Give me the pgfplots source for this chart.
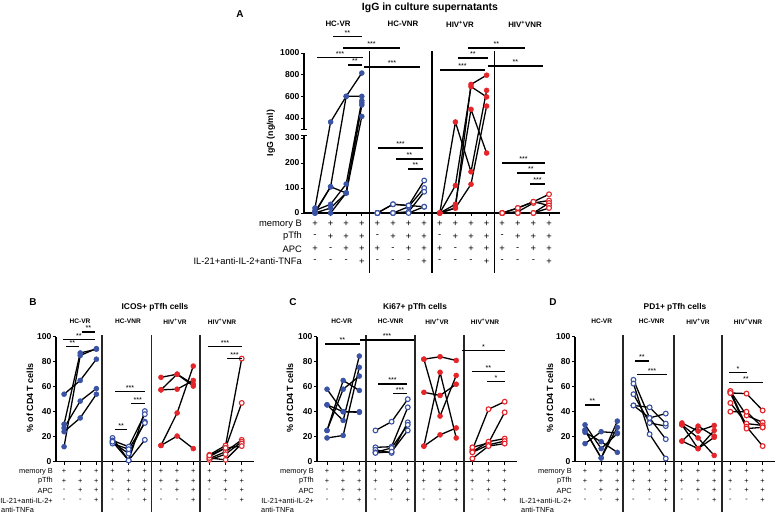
\documentclass[border=0pt]{standalone}
\usepackage{pgfplots}
\pgfplotsset{compat=1.18}
\usepackage{fontspec}
\setmainfont{Liberation Sans}
\definecolor{cblue}{RGB}{59,83,164}
\definecolor{cred}{RGB}{228,38,42}
\pgfplotsset{
  dline/.style={black, line width=1.3bp},
  bf/.style={dline, mark=*, mark size=2.5bp, mark options={solid, draw=cblue, fill=cblue, line width=0.5bp}},
  bo/.style={dline, mark=*, mark size=2.4bp, mark options={solid, draw=cblue, fill=white, line width=1.1bp}},
  rf/.style={dline, mark=*, mark size=2.5bp, mark options={solid, draw=cred, fill=cred, line width=0.5bp}},
  ro/.style={dline, mark=*, mark size=2.4bp, mark options={solid, draw=cred, fill=white, line width=1.1bp}},
  panel/.style={scale only axis, axis x line*=bottom, axis y line*=left,
    axis line style={line width=1.4bp, black, -}, tick align=outside,
    major tick length=3bp, tick style={line width=1bp, black},
    clip=false, xticklabels={},
    yticklabel style={font=\bfseries\fontsize{8.6}{9}\selectfont, inner sep=1.5bp}},
}
\newcommand\sig[4]{\draw[line width=1.3bp] (#1,#3) -- (#2,#3) node[midway, anchor=base, yshift=1.2bp, inner sep=0pt, font=\fontsize{7.2}{8}\selectfont] {#4};}
\begin{document}
\begin{tikzpicture}
\path[use as bounding box] (0,0) rectangle (777bp,-517bp);

% ---------------- Panel A ----------------
\begin{axis}[panel, at={(304bp,-213bp)}, anchor=south west, width=256bp, height=160bp,
  xmin=-0.705, xmax=15.705, ymin=0, ymax=640, xtick={0,...,15},
  ytick={0,100,200,300,380,466.667,553.333,640},
  yticklabels={0,100,200,300,400,600,800,1000},
  y filter/.expression={y<=300 ? y : (y<=400 ? 300+0.8*(y-300) : 380+0.433333*(y-400))}]
% HC-VR
\addplot[bf] coordinates {(0,20)(1,380)(2,600)(3,815)};
\addplot[bf] coordinates {(0,0)(1,105)(2,600)(3,600)};
\addplot[bf] coordinates {(0,10)(1,35)(2,116)(3,560)};
\addplot[bf] coordinates {(0,0)(1,20)(2,80)(3,540)};
\addplot[bf] coordinates {(0,5)(1,105)(2,80)(3,415)};
\addplot[bf] coordinates {(0,0)(1,0)(2,80)(3,520)};
% HC-VNR
\addplot[bo] coordinates {(4,0)(5,35)(6,30)(7,130)};
\addplot[bo] coordinates {(4,0)(5,0)(6,25)(7,100)};
\addplot[bo] coordinates {(4,0)(5,0)(6,5)(7,85)};
\addplot[bo] coordinates {(4,0)(5,0)(6,0)(7,25)};
\addplot[bo] coordinates {(4,0)(5,35)(6,30)(7,25)};
% HIV+VR
\addplot[rf] coordinates {(8,0)(9,20)(10,710)(11,795)};
\addplot[rf] coordinates {(8,0)(9,110)(10,690)(11,595)};
\addplot[rf] coordinates {(8,0)(9,380)(10,165)(11,655)};
\addplot[rf] coordinates {(8,0)(9,35)(10,480)(11,240)};
\addplot[rf] coordinates {(8,0)(9,20)(10,115)(11,510)};
% HIV+VNR
\addplot[ro] coordinates {(12,0)(13,20)(14,45)(15,75)};
\addplot[ro] coordinates {(12,0)(13,5)(14,40)(15,50)};
\addplot[ro] coordinates {(12,0)(13,0)(14,0)(15,40)};
\addplot[ro] coordinates {(12,0)(13,20)(14,45)(15,30)};
\addplot[ro] coordinates {(12,0)(13,0)(14,0)(15,20)};
\end{axis}

% ---------------- Panel B ----------------
\begin{axis}[panel, at={(56bp,-461.7bp)}, anchor=south west, width=198bp, height=125bp,
  xmin=-0.5, xmax=11.76, ymin=0, ymax=100, xtick={0,...,11},
  ytick={0,20,40,60,80,100}, yticklabels={0,20,40,60,80,100}]
\addplot[bf] coordinates {(0,12)(1,85)(2,90.5)};
\addplot[bf] coordinates {(0,30)(1,87)(2,90)};
\addplot[bf] coordinates {(0,54)(1,65)(2,82)};
\addplot[bf] coordinates {(0,27)(1,48.5)(2,58.5)};
\addplot[bf] coordinates {(0,24)(1,35)(2,54)};
\addplot[bo] coordinates {(3,19)(4,1)(5,40.5)};
\addplot[bo] coordinates {(3,17)(4,12)(5,38)};
\addplot[bo] coordinates {(3,15.5)(4,6.5)(5,32)};
\addplot[bo] coordinates {(3,14.5)(4,10)(5,31)};
\addplot[bo] coordinates {(3,16)(4,1)(5,17.5)};
\addplot[rf] coordinates {(6,67.5)(7,70)(8,62)};
\addplot[rf] coordinates {(6,57.5)(7,58)(8,65)};
\addplot[rf] coordinates {(6,57.5)(7,70)(8,60.5)};
\addplot[rf] coordinates {(6,13)(7,39)(8,76.5)};
\addplot[rf] coordinates {(6,13)(7,20.5)(8,10.5)};
\addplot[ro] coordinates {(9,5.5)(10,13)(11,82.5)};
\addplot[ro] coordinates {(9,4)(10,11)(11,47)};
\addplot[ro] coordinates {(9,2.5)(10,8)(11,17.5)};
\addplot[ro] coordinates {(9,1.5)(10,6)(11,16)};
\addplot[ro] coordinates {(9,3)(10,1.5)(11,14.5)};
\addplot[ro] coordinates {(9,5)(10,11)(11,12.5)};
\end{axis}

% ---------------- Panel C ----------------
\begin{axis}[panel, at={(317bp,-461.7bp)}, anchor=south west, width=200bp, height=125bp,
  xmin=-0.62, xmax=11.764, ymin=0, ymax=100, xtick={0,...,11},
  ytick={0,20,40,60,80,100}, yticklabels={0,20,40,60,80,100}]
\addplot[bf] coordinates {(0,58)(1,40)(2,40)};
\addplot[bf] coordinates {(0,45.5)(1,33)(2,84.5)};
\addplot[bf] coordinates {(0,25)(1,65)(2,57)};
\addplot[bf] coordinates {(0,19)(1,21)(2,75.5)};
\addplot[bf] coordinates {(0,25)(1,58)(2,68.5)};
\addplot[bf] coordinates {(0,45.5)(1,40)(2,39.5)};
\addplot[bo] coordinates {(3,25)(4,32)(5,50)};
\addplot[bo] coordinates {(3,11.5)(4,12)(5,43.5)};
\addplot[bo] coordinates {(3,9.5)(4,7)(5,31.5)};
\addplot[bo] coordinates {(3,7.5)(4,11)(5,29.5)};
\addplot[bo] coordinates {(3,7)(4,8)(5,25)};
\addplot[rf] coordinates {(6,82)(7,84)(8,81)};
\addplot[rf] coordinates {(6,82)(7,36.5)(8,69)};
\addplot[rf] coordinates {(6,55.5)(7,53)(8,62)};
\addplot[rf] coordinates {(6,12.5)(7,71.5)(8,19)};
\addplot[rf] coordinates {(6,12.5)(7,21.5)(8,27)};
\addplot[ro] coordinates {(9,9.5)(10,42)(11,48)};
\addplot[ro] coordinates {(9,11.5)(10,15)(11,39.5)};
\addplot[ro] coordinates {(9,8)(10,16)(11,18.5)};
\addplot[ro] coordinates {(9,7.5)(10,13.5)(11,16.5)};
\addplot[ro] coordinates {(9,2.5)(10,12.5)(11,14.5)};
\end{axis}

% ---------------- Panel D ----------------
\begin{axis}[panel, at={(575bp,-461.7bp)}, anchor=south west, width=200bp, height=125bp,
  xmin=-0.62, xmax=11.764, ymin=0, ymax=100, xtick={0,...,11},
  ytick={0,20,40,60,80,100}, yticklabels={0,20,40,60,80,100}]
\addplot[bf] coordinates {(0,29.5)(1,10.5)(2,22.5)};
\addplot[bf] coordinates {(0,25.5)(1,3)(2,32.5)};
\addplot[bf] coordinates {(0,23.5)(1,16)(2,7.5)};
\addplot[bf] coordinates {(0,14.5)(1,24)(2,23)};
\addplot[bf] coordinates {(0,25)(1,3)(2,27.5)};
\addplot[bo] coordinates {(3,65.5)(4,35)(5,18)};
\addplot[bo] coordinates {(3,62.5)(4,22)(5,2.5)};
\addplot[bo] coordinates {(3,54)(4,31)(5,28.5)};
\addplot[bo] coordinates {(3,45)(4,43.5)(5,30.5)};
\addplot[bo] coordinates {(3,45)(4,35)(5,38.5)};
\addplot[rf] coordinates {(6,31)(7,24.5)(8,29)};
\addplot[rf] coordinates {(6,29.5)(7,10.5)(8,25)};
\addplot[rf] coordinates {(6,16.5)(7,28.5)(8,20.5)};
\addplot[rf] coordinates {(6,29.5)(7,19)(8,5)};
\addplot[rf] coordinates {(6,16.5)(7,10.5)(8,19.5)};
\addplot[ro] coordinates {(9,55)(10,54.5)(11,41)};
\addplot[ro] coordinates {(9,56.5)(10,37)(11,31.5)};
\addplot[ro] coordinates {(9,47)(10,30.5)(11,29)};
\addplot[ro] coordinates {(9,40)(10,40)(11,27.5)};
\addplot[ro] coordinates {(9,56.5)(10,28)(11,12.5)};
\addplot[ro] coordinates {(9,55)(10,26.5)(11,27.5)};
\end{axis}

% ---------------- annotations ----------------
\begin{scope}[x=1bp,y=-1bp]
% panel A texts
\node[font=\bfseries\fontsize{10.5}{12}\selectfont] at (430,8) {IgG in culture supernatants};
\node[font=\bfseries\fontsize{10}{12}\selectfont] at (240,14) {A};
\begin{scope}[every node/.style={font=\bfseries\fontsize{7.9}{9}\selectfont}]
\node at (338,24) {HC-VR};
\node at (403,24) {HC-VNR};
\node at (460,24) {HIV\textsuperscript{+}VR};
\node at (525,24) {HIV\textsuperscript{+}VNR};
\end{scope}
\node[rotate=90, font=\bfseries\fontsize{8.8}{10}\selectfont] at (271,133) {IgG (ng/ml)};
% axis break
\fill[white] (301,129.5) rectangle (307,135);
\draw[line width=1bp] (301,129.5) -- (307,129.5);
\draw[line width=1bp] (301,135) -- (307,135);
% separators A
\foreach \sx in {369.6,432,494.4} {\draw[line width=1.6bp] (\sx,51) -- (\sx,273);}
% sig bars A
\sig{333}{362}{36.7}{**}
\sig{343}{400}{48}{***}
\sig{317}{363}{57.5}{***}
\sig{348}{362}{65}{**}
\sig{364}{420}{67}{***}
\sig{378}{423}{148}{***}
\sig{396}{423}{159}{**}
\sig{408}{423}{169}{**}
\sig{468}{525}{48}{**}
\sig{458}{488}{58}{**}
\sig{440}{485}{70}{***}
\sig{488}{543}{66}{**}
\sig{502}{545}{163}{***}
\sig{517}{545}{173}{**}
\sig{530}{545}{184}{***}
% table A
\begin{scope}[every node/.style={font=\fontsize{9.4}{10}\selectfont, inner sep=0pt}]
\node[anchor=east] at (302,224) {memory B};
\node[anchor=east] at (302,236.5) {pTfh};
\node[anchor=east] at (302,249) {APC};
\node[anchor=east] at (302,261.5) {IL-21+anti-IL-2+anti-TNFa};
\foreach \i in {0,...,15} {
  \pgfmathtruncatemacro\c{mod(\i,4)}
  \node at ({315+15.6*\i},224) {+};
  \node at ({315+15.6*\i},236.5) {\ifnum\c=0 -\else +\fi};
  \node at ({315+15.6*\i},249) {\ifnum\c=1 -\else +\fi};
  \node at ({315+15.6*\i},261.5) {\ifnum\c=3 +\else -\fi};
}
\end{scope}

% panels B-D texts
\foreach \lx/\tx/\ttl/\plab in {0/155/ICOS+ pTfh cells/B, 260/415/Ki67+ pTfh cells/C, 520/675/PD1+ pTfh cells/D} {
  \node[font=\bfseries\fontsize{10}{12}\selectfont] at (\lx+33,302) {\plab};
  \node[font=\bfseries\fontsize{8.4}{10}\selectfont] at (\tx,307) {\ttl};
  \node[rotate=90, font=\bfseries\fontsize{9}{10}\selectfont] at (\lx+30,398) {\% of CD4 T cells};
}
\begin{scope}[every node/.style={font=\bfseries\fontsize{6.6}{8}\selectfont}]
\foreach \gx/\gl in {80/HC-VR,128/HC-VNR,175/HIV\textsuperscript{+}VR,222/HIV\textsuperscript{+}VNR,
                     341.7/HC-VR,390.7/HC-VNR,437/HIV\textsuperscript{+}VR,485/HIV\textsuperscript{+}VNR,
                     601.7/HC-VR,651.7/HC-VNR,698/HIV\textsuperscript{+}VR,748/HIV\textsuperscript{+}VNR}
  {\node at (\gx,321.5) {\gl};}
\end{scope}
% separators B-D
\foreach \sx in {102,151.7,200,366,415,464,623,674,722} {\draw[line width=1.5bp, black!85] (\sx,335) -- (\sx,512);}
% sig bars B
\sig{66}{79}{346.7}{**}
\sig{63}{95}{339.3}{**}
\sig{81.7}{95}{332}{**}
\sig{115}{127.3}{429.3}{**}
\sig{115}{145}{391.7}{***}
\sig{130.7}{145}{403.3}{***}
\sig{208}{242}{346.7}{***}
\sig{227}{242}{358.3}{***}
% sig bars C
\sig{325}{360}{344}{**}
\sig{360}{414}{340}{***}
\sig{378}{407}{384}{***}
\sig{393}{407}{393.3}{***}
\sig{462}{505}{350.7}{*}
\sig{472}{505}{371.7}{**}
\sig{487}{505}{381.7}{*}
% sig bars D
\sig{585}{600}{405}{**}
\sig{635}{649}{361}{**}
\sig{637}{667}{374.3}{***}
\sig{729}{747}{372.7}{*}
\sig{729}{763}{382.7}{**}
% tables B-D
\begin{scope}[every node/.style={font=\fontsize{7.4}{8}\selectfont, inner sep=0pt}]
\foreach \px/\lx/\ax in {56/0/64.1, 317/260/327, 575/520/585} {
  \node[anchor=east] at (\px-3,471.5) {memory B};
  \node[anchor=east] at (\px-3,481) {pTfh};
  \node[anchor=east] at (\px-3,490.5) {APC};
  \node[anchor=east] at (\px-3,500.5) {IL-21+anti-IL-2+};
  \node[anchor=west] at (\lx+1,510) {anti-TNFa};
  \foreach \i in {0,...,11} {
    \pgfmathtruncatemacro\c{mod(\i,3)}
    \node at ({\ax+16.15*\i},471.5) {+};
    \node at ({\ax+16.15*\i},481) {+};
    \node at ({\ax+16.15*\i},490.5) {\ifnum\c=0 -\else +\fi};
    \node at ({\ax+16.15*\i},500.5) {\ifnum\c=2 +\else -\fi};
  }
}
\end{scope}
\end{scope}
\end{tikzpicture}
\end{document}
